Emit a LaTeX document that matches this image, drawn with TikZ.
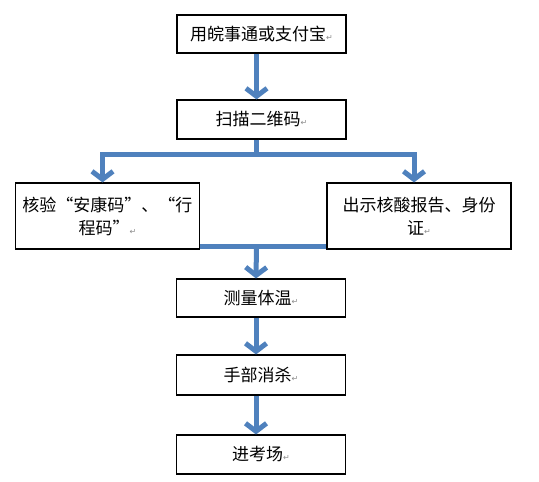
\documentclass[tikz,border=0pt]{standalone}
\usepackage{fontspec}
\newfontfamily\cjk{Noto Sans CJK SC}
\newfontfamily\pmarkfont{DejaVu Sans}
\usetikzlibrary{arrows.meta}
\definecolor{flowblue}{HTML}{4F81BD}
\newcommand{\pmark}{{\pmarkfont\color{black!45}\fontsize{8}{8}\selectfont\char"21B5}}

\begin{document}
\begin{tikzpicture}[x=1pt,y=-1pt,
    box/.style={draw, line width=1.1pt, fill=white, inner sep=0pt,
      minimum width=169pt, minimum height=38pt, align=center,
      font=\cjk\fontsize{17}{23}\selectfont},
    wide/.style={box, minimum width=184pt, minimum height=66pt},
    bar/.style={draw=flowblue, line width=5pt},
    flow/.style={bar, -{Straight Barb[length=8pt,width=21pt]}}]
    \useasboundingbox (0,0) rectangle (539,482);
    \node[box] (pay) at (261.5,34) {用皖事通或支付宝\pmark};
    \node[box, minimum height=39pt] (scan) at (261.5,119.5) {扫描二维码\pmark};
    \node[wide] (check) at (107.5,216) {核验“安康码”、“行\\程码”\pmark};
    \node[wide] (show) at (419,216) {出示核酸报告、身份\\证\pmark};
    \node[box] (temp) at (261,298) {测量体温\pmark};
    \node[box, minimum height=40pt] (hand) at (261,375) {手部消杀\pmark};
    \node[box, minimum height=39pt] (enter) at (261,454.5) {进考场\pmark};
    \coordinate (split) at (256.5,154);
    \coordinate (merge) at (256.5,246);
    \draw[flow] ([xshift=-5pt]pay.south) -- ([xshift=-5pt]scan.north);
    \draw[bar] ([xshift=-5pt]scan.south) -- (split);
    \draw[flow] (split) -| ([xshift=-5pt]check.north);
    \draw[flow] (split) -| ([xshift=-5pt]show.north);
    \draw[bar] (check.east |- merge) -- (show.west |- merge);
    \draw[flow] (merge) -- ([xshift=-5pt]temp.north);
    \draw[flow] ([xshift=-5pt]temp.south) -- ([xshift=-5pt]hand.north);
    \draw[flow] ([xshift=-5pt]hand.south) -- ([xshift=-5pt]enter.north);
\end{tikzpicture}
\end{document}
